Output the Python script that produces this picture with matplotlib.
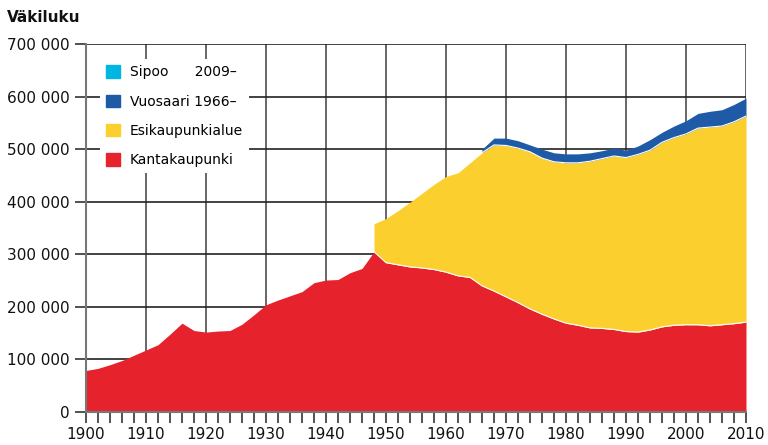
import matplotlib.pyplot as plt
import matplotlib.patches as mpatches
import numpy as np

# years every 2 years, 1900-2010
years = np.arange(1900, 2011, 2)

# Kantakaupunki (inner city), thousands
kanta = [79, 83, 90, 98, 108, 118, 128, 148, 169, 155,
         152, 154, 155, 167, 185, 204, 213, 221, 229, 246,
         251, 252, 265, 273, 305, 284, 280, 276, 274, 271,
         266, 259, 256, 240, 230, 219, 208, 196, 186, 177,
         169, 165, 160, 159, 157, 153, 152, 156, 162, 165,
         166, 166, 164, 166, 168, 171]

# Esikaupunkialue (suburbs) from 1948, thousands
esi_years = np.arange(1948, 2011, 2)
esi = [53, 84, 103, 123, 142, 162, 182, 196, 218, 253,
       278, 288, 294, 299, 297, 299, 305, 309, 317, 323,
       330, 331, 338, 342, 351, 357, 363, 374, 378, 378,
       384, 392]

# Vuosaari from 1966, thousands
vuo_years = np.arange(1966, 2011, 2)
vuo = [7, 13, 14, 14, 13, 17, 17, 17, 17, 16,
       15, 15, 14, 16, 20, 19, 22, 25, 28, 30,
       31, 33, 34]

red = '#E6232D'
yellow = '#FBCF2D'
blue = '#1F5AA6'
cyan = '#00B5E2'

kanta = np.array(kanta) * 1000
esi = np.array(esi) * 1000
vuo = np.array(vuo) * 1000

fig = plt.figure(figsize=(7.68, 4.45), dpi=100)
ax = fig.add_axes([86/768, 1-412/445, 660/768, 368/445])

# stacking
k_esi = kanta[years >= 1948]
top_esi = k_esi + esi
top_vuo = top_esi[esi_years >= 1966] + vuo

ax.fill_between(years, 0, kanta, color=red, lw=0, zorder=3)
ax.fill_between(esi_years, k_esi, top_esi, color=yellow, lw=0, zorder=3)
ax.fill_between(vuo_years, top_esi[esi_years >= 1966], top_vuo, color=blue, lw=0, zorder=3)
# thin white seams between layers
ax.plot(esi_years, k_esi, color='white', lw=0.8, zorder=4)
ax.plot(vuo_years, top_esi[esi_years >= 1966], color='white', lw=0.8, zorder=4)

ax.set_xlim(1900, 2010)
ax.set_ylim(0, 700000)

ax.set_xticks(np.arange(1900, 2011, 10))
ax.set_xticks(np.arange(1900, 2011, 2), minor=True)
ax.set_yticks(np.arange(0, 700001, 100000))
ax.set_yticklabels(['0'] + ['%d 000' % (v // 1000) for v in range(100000, 700001, 100000)])

for v in np.arange(1910, 2011, 10):
    ax.axvline(v, color='#666666', lw=1.4, zorder=1)
for v in np.arange(100000, 700001, 100000):
    ax.axhline(v, color='#222222', lw=1.2, zorder=1)

for s in ['top', 'right']:
    ax.spines[s].set_visible(False)
for s in ['left', 'bottom']:
    ax.spines[s].set_color('#777777')
    ax.spines[s].set_linewidth(1.5)
    ax.spines[s].set_zorder(5)

ax.tick_params(axis='both', which='both', direction='out', length=8,
               width=1.2, color='#333333', labelsize=11, labelcolor='#111111')
ax.tick_params(axis='x', pad=3)
ax.tick_params(axis='y', pad=4)

fig.text(7/768, 1-17/445, 'Väkiluku', fontsize=11, fontweight='bold',
         va='center', ha='left', color='#111111')

handles = [mpatches.Patch(color=cyan), mpatches.Patch(color=blue),
           mpatches.Patch(color=yellow), mpatches.Patch(color=red)]
labels = ['Sipoo      2009–', 'Vuosaari 1966–', 'Esikaupunkialue', 'Kantakaupunki']
leg = ax.legend(handles, labels, loc='upper left', bbox_to_anchor=(100/768, 1-59/445),
                bbox_transform=fig.transFigure, frameon=True, fontsize=10,
                handlelength=1.0, handleheight=1.0, handletextpad=0.7,
                labelspacing=1.1, borderpad=0.45, borderaxespad=0,
                facecolor='white', edgecolor='none', framealpha=1, fancybox=False)
leg.set_zorder(6)

fig.savefig('out.png', dpi=100)
